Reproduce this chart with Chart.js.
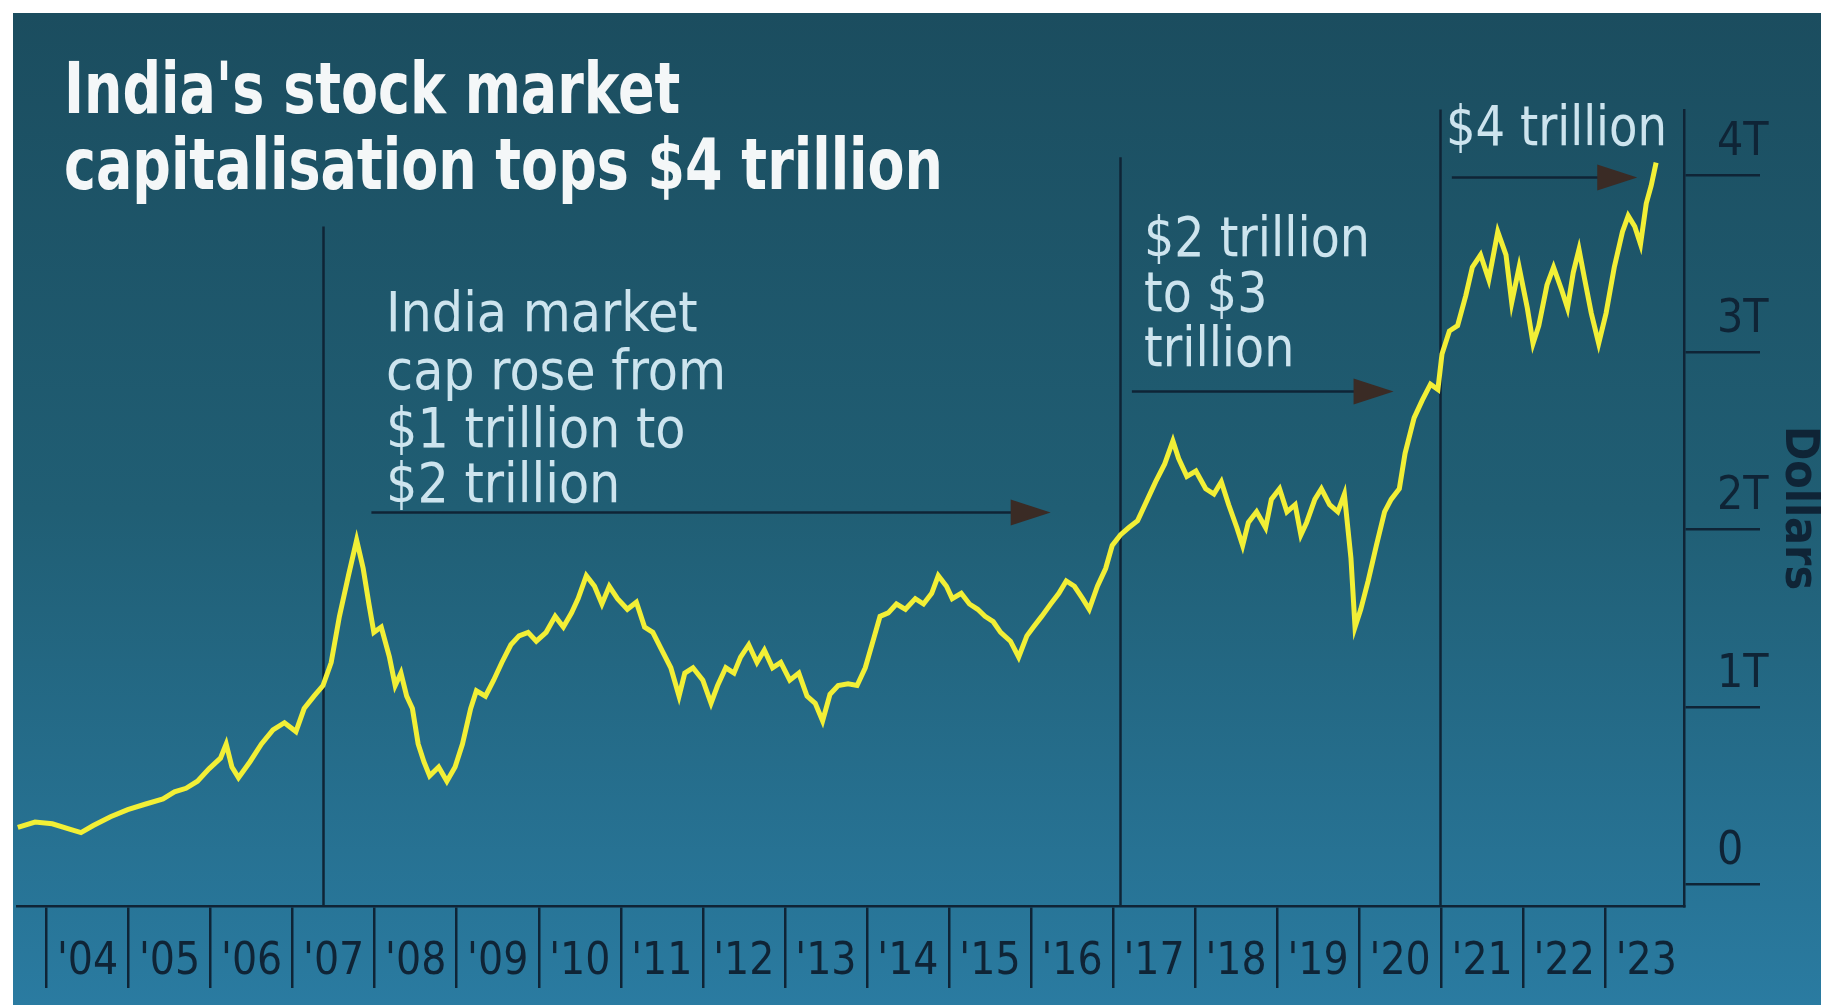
<!DOCTYPE html>
<html><head><meta charset="utf-8">
<script src="https://cdn.jsdelivr.net/npm/chart.js@4.4.1/dist/chart.umd.min.js"></script>
<style>html,body{margin:0;padding:0;background:#fff;overflow:hidden}#wrap{width:1821px;height:1005px;position:relative}canvas{display:block}</style>
</head><body><div id="wrap"><canvas id="c" width="1821" height="1005"></canvas></div>
<script>
// ---- data (decimal year, trillion US$) ----
const dates = [2003.65,2003.86,2004.07,2004.28,2004.42,2004.57,2004.78,2004.99,2005.20,2005.42,2005.56,2005.70,2005.84,2005.98,2006.12,2006.19,2006.26,2006.34,2006.48,2006.62,2006.76,2006.90,2007.04,2007.14,2007.26,2007.37,2007.47,2007.57,2007.68,2007.78,2007.86,2007.93,2007.99,2008.08,2008.18,2008.25,2008.32,2008.39,2008.46,2008.53,2008.60,2008.67,2008.78,2008.88,2008.98,2009.07,2009.17,2009.24,2009.35,2009.45,2009.55,2009.66,2009.76,2009.87,2009.97,2010.09,2010.20,2010.30,2010.40,2010.48,2010.58,2010.68,2010.77,2010.86,2010.96,2011.08,2011.19,2011.29,2011.39,2011.50,2011.61,2011.71,2011.78,2011.88,2012.00,2012.10,2012.18,2012.28,2012.38,2012.46,2012.56,2012.66,2012.75,2012.85,2012.95,2013.06,2013.17,2013.27,2013.37,2013.46,2013.55,2013.65,2013.77,2013.88,2013.98,2014.08,2014.16,2014.26,2014.36,2014.47,2014.59,2014.69,2014.79,2014.87,2014.97,2015.04,2015.15,2015.25,2015.35,2015.44,2015.54,2015.63,2015.75,2015.85,2015.95,2016.03,2016.13,2016.24,2016.34,2016.43,2016.53,2016.63,2016.71,2016.81,2016.91,2016.99,2017.09,2017.19,2017.30,2017.42,2017.52,2017.63,2017.73,2017.80,2017.90,2018.01,2018.13,2018.23,2018.32,2018.41,2018.51,2018.58,2018.65,2018.75,2018.86,2018.93,2019.03,2019.12,2019.22,2019.29,2019.36,2019.46,2019.54,2019.64,2019.74,2019.82,2019.90,2019.95,2020.02,2020.11,2020.21,2020.31,2020.39,2020.49,2020.56,2020.67,2020.77,2020.87,2020.96,2021.01,2021.10,2021.20,2021.30,2021.38,2021.48,2021.58,2021.69,2021.79,2021.86,2021.95,2022.05,2022.12,2022.19,2022.29,2022.37,2022.47,2022.54,2022.61,2022.68,2022.75,2022.83,2022.92,2023.01,2023.11,2023.21,2023.28,2023.36,2023.43,2023.50,2023.56,2023.62];
const capTrillion = [0.32,0.35,0.34,0.31,0.29,0.33,0.38,0.42,0.45,0.48,0.52,0.54,0.58,0.65,0.71,0.79,0.66,0.60,0.69,0.79,0.87,0.91,0.86,0.99,1.06,1.12,1.25,1.51,1.74,1.94,1.78,1.58,1.42,1.45,1.28,1.12,1.19,1.06,0.99,0.79,0.69,0.61,0.66,0.58,0.66,0.79,0.99,1.09,1.06,1.15,1.25,1.35,1.40,1.42,1.37,1.42,1.51,1.45,1.53,1.61,1.74,1.68,1.58,1.68,1.61,1.55,1.59,1.45,1.42,1.32,1.22,1.06,1.19,1.22,1.15,1.02,1.12,1.22,1.19,1.28,1.35,1.25,1.32,1.22,1.25,1.15,1.19,1.06,1.02,0.92,1.07,1.12,1.13,1.12,1.22,1.38,1.51,1.53,1.58,1.55,1.61,1.58,1.64,1.74,1.68,1.61,1.64,1.58,1.55,1.51,1.48,1.42,1.37,1.28,1.40,1.45,1.51,1.58,1.64,1.71,1.68,1.61,1.55,1.68,1.78,1.91,1.97,2.01,2.05,2.17,2.27,2.37,2.50,2.40,2.30,2.33,2.23,2.20,2.27,2.14,2.01,1.91,2.04,2.10,2.01,2.17,2.23,2.10,2.14,1.97,2.04,2.17,2.23,2.14,2.10,2.20,1.84,1.45,1.55,1.71,1.91,2.10,2.17,2.23,2.43,2.63,2.73,2.82,2.79,2.99,3.12,3.15,3.32,3.48,3.55,3.41,3.68,3.55,3.28,3.48,3.25,3.05,3.15,3.38,3.48,3.35,3.25,3.45,3.58,3.41,3.22,3.05,3.22,3.48,3.68,3.77,3.71,3.61,3.84,3.94,4.07];
const yearBoundaries = [2004,2005,2006,2007,2008,2009,2010,2011,2012,2013,2014,2015,2016,2017,2018,2019,2020,2021,2022,2023,2024];
const yearLabels = ["'04","'05","'06","'07","'08","'09","'10","'11","'12","'13","'14","'15","'16","'17","'18","'19","'20","'21","'22","'23"];
const yTickValues = [0,1,2,3,4];
const yTickLabels = ['0','1T','2T','3T','4T'];
const titleLines = ["India's stock market","capitalisation tops $4 trillion"];
const noteStartDates = [2007.37,2017.09,2020.99];
const noteTopValues = [3.71,4.10,4.37];
const arrowFrom = [2007.96,2017.23,2021.13];
const arrowTo = [2016.24,2020.42,2023.39];
const arrowLevel = [2.10,2.78,3.99];
const noteTexts = [["India market","cap rose from","$1 trillion to","$2 trillion"],["$2 trillion","to $3","trillion"],["$4 trillion"]];

// ---- styling ----
const NAVY = '#0f2436';
const NARROW = '"Liberation Sans Narrow", "DejaVu Sans Condensed", "Liberation Sans", sans-serif';

function fitLines(ctx, lines, x, baselines, font, refIdx, targetW, color) {
  ctx.save();
  ctx.font = font; ctx.fillStyle = color; ctx.textAlign = 'left'; ctx.textBaseline = 'alphabetic';
  const sx = targetW / ctx.measureText(lines[refIdx]).width;
  lines.forEach((t, i) => {
    ctx.save(); ctx.translate(x, baselines[i]); ctx.scale(sx, 1); ctx.fillText(t, 0, 0); ctx.restore();
  });
  ctx.restore();
}

const backdrop = {
  id: 'backdrop',
  beforeDraw(chart) {
    const ctx = chart.ctx, W = chart.width, H = chart.height;
    ctx.save();
    ctx.fillStyle = '#ffffff'; ctx.fillRect(0, 0, W, H);
    const g = ctx.createLinearGradient(0, 13, 0, H);
    g.addColorStop(0, '#1b4d5f'); g.addColorStop(0.5, '#205e74'); g.addColorStop(1, '#2a7ba1');
    ctx.fillStyle = g; ctx.fillRect(13, 13, W - 13, H - 13);
    ctx.restore();
  }
};

const notes = {
  id: 'notes',
  beforeDatasetsDraw(chart) {
    const ctx = chart.ctx, xs = chart.scales.x, ys = chart.scales.y;
    ctx.save();
    ctx.strokeStyle = NAVY; ctx.lineWidth = 2.5;
    noteStartDates.forEach((d, i) => {
      const px = Math.round(xs.getPixelForValue(d)) + 0.5;
      ctx.beginPath(); ctx.moveTo(px, ys.getPixelForValue(noteTopValues[i])); ctx.lineTo(px, ys.bottom); ctx.stroke();
    });
    arrowFrom.forEach((d, i) => {
      const x0 = xs.getPixelForValue(d), x1 = xs.getPixelForValue(arrowTo[i]);
      const py = Math.round(ys.getPixelForValue(arrowLevel[i])) + 0.5;
      ctx.strokeStyle = NAVY; ctx.lineWidth = 2.5;
      ctx.beginPath(); ctx.moveTo(x0, py); ctx.lineTo(x1 - 30, py); ctx.stroke();
      ctx.fillStyle = '#3a2b25';
      ctx.beginPath(); ctx.moveTo(x1, py); ctx.lineTo(x1 - 40, py - 13); ctx.lineTo(x1 - 40, py + 13); ctx.closePath(); ctx.fill();
    });
    ctx.restore();
  },
  afterDraw(chart) {
    const ctx = chart.ctx;
    fitLines(ctx, titleLines, 64, [113, 189], 'bold 72px ' + NARROW, 1, 879, '#f4f7f8');
    fitLines(ctx, noteTexts[0], 386, [331, 389, 447, 502], '56px ' + NARROW, 1, 340, '#cde4ee');
    fitLines(ctx, noteTexts[1], 1144, [256, 311, 366], '56px ' + NARROW, 0, 226, '#cde4ee');
    fitLines(ctx, noteTexts[2], 1446, [145], '56px ' + NARROW, 0, 221, '#cde4ee');
  }
};

new Chart(document.getElementById('c'), {
  type: 'line',
  data: {
    datasets: [{
      data: dates.map((d, i) => ({ x: d, y: capTrillion[i] })),
      borderColor: '#f2ef36', borderWidth: 5, pointRadius: 0, tension: 0,
      borderJoinStyle: 'miter', fill: false
    }]
  },
  options: {
    responsive: false, devicePixelRatio: 1, animation: false,
    layout: { padding: { left: 17, top: 110, right: 0, bottom: 0 } },
    plugins: { legend: { display: false }, tooltip: { enabled: false }, title: { display: false } },
    scales: {
      x: {
        type: 'linear', position: 'bottom', min: 2003.64, max: 2023.96,
        afterBuildTicks(s) {
          const t = [];
          yearBoundaries.forEach(v => { if (v >= s.min && v <= s.max) t.push({ value: v }); });
          yearBoundaries.slice(0, -1).forEach(v => t.push({ value: v + 0.5 }));
          t.sort((a, b) => a.value - b.value);
          s.ticks = t;
        },
        afterFit(s) { s.height = 99; },
        ticks: {
          autoSkip: false, maxRotation: 0, minRotation: 0, padding: -52,
          color: NAVY, font: { family: NARROW, size: 44 },
          callback(v) { return Number.isInteger(v) ? '' : yearLabels[Math.floor(v) - 2004]; }
        },
        grid: {
          drawOnChartArea: false, drawTicks: true, tickLength: 82, lineWidth: 2.5,
          tickColor(c) { return (c.tick && Number.isInteger(c.tick.value)) ? NAVY : 'rgba(0,0,0,0)'; }
        },
        border: { display: true, color: NAVY, width: 2.5 }
      },
      y: {
        type: 'linear', position: 'right', min: -0.124, max: 4.367,
        afterBuildTicks(s) { s.ticks = yTickValues.map(v => ({ value: v })); },
        afterFit(s) { s.width = 137; },
        ticks: {
          padding: -43, labelOffset: -32, color: NAVY,
          font: { family: NARROW, size: 46 },
          callback(v) { const i = yTickValues.indexOf(v); return i >= 0 ? yTickLabels[i] : ''; }
        },
        grid: { drawOnChartArea: false, drawTicks: true, tickLength: 76, lineWidth: 2.5, tickColor: NAVY },
        border: { display: true, color: NAVY, width: 2.5 },
        title: {
          display: true, text: 'Dollars', color: NAVY, padding: 0,
          font: { family: NARROW, size: 46, weight: 'bold', lineHeight: 1 }
        }
      }
    }
  },
  plugins: [backdrop, notes]
});
</script>
</body></html>
